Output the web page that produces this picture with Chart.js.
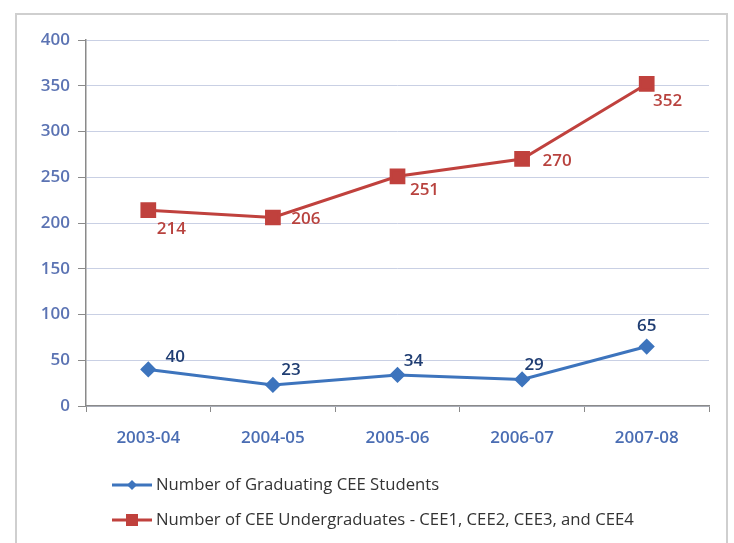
<!DOCTYPE html>
<html>
<head>
<meta charset="utf-8">
<script src="https://cdn.jsdelivr.net/npm/chart.js@4.4.1/dist/chart.umd.min.js"></script>
<style>
  html, body { margin: 0; padding: 0; background: #ffffff; }
  #wrap { position: relative; width: 734px; height: 543px; overflow: hidden; }
  #frame { position: absolute; left: 15px; top: 13px; width: 713px; height: 560px; border: 2px solid #cfcfcf; box-sizing: border-box; }
  canvas { position: absolute; left: 0; top: 0; }
</style>
</head>
<body>
<div id="wrap">
  <div id="frame"></div>
  <canvas id="c" width="734" height="543"></canvas>
</div>
<script>
const categories = ['2003-04', '2004-05', '2005-06', '2006-07', '2007-08'];
const graduating = [40, 23, 34, 29, 65];
const undergrads = [214, 206, 251, 270, 352];
const seriesNames = ['Number of Graduating CEE Students', 'Number of CEE Undergraduates - CEE1, CEE2, CEE3, and CEE4'];
const yTicks = [0, 50, 100, 150, 200, 250, 300, 350, 400];

const FONT = '"Open Sans", "Liberation Sans", sans-serif';
const BLUE = '#3d74bd';
const RED = '#c0413d';

// per-series label styling (offsets in px relative to the point)
const labelStyles = [
  { color: '#1f3d72', offsets: [[27, -12], [18, -15], [16, -14], [12, -14], [0, -20]] },
  { color: '#b8423e', offsets: [[23, 19], [33, 2], [27, 14], [35, 2], [21, 17]] }
];

const dataLabels = {
  id: 'dataLabels',
  afterDatasetsDraw(chart) {
    const ctx = chart.ctx;
    ctx.save();
    ctx.font = '600 17px ' + FONT;
    ctx.textAlign = 'center';
    ctx.textBaseline = 'middle';
    chart.data.datasets.forEach((ds, i) => {
      const meta = chart.getDatasetMeta(i);
      const st = labelStyles[i];
      ctx.fillStyle = st.color;
      meta.data.forEach((pt, j) => {
        const o = st.offsets[j];
        ctx.fillText(String(ds.data[j]), pt.x + o[0], pt.y + o[1]);
      });
    });
    ctx.restore();
  }
};

const customLegend = {
  id: 'customLegend',
  afterDraw(chart) {
    const ctx = chart.ctx;
    ctx.save();
    ctx.font = '16.7px ' + FONT;
    ctx.textBaseline = 'middle';
    ctx.textAlign = 'left';
    const rows = [485, 520];
    chart.data.datasets.forEach((ds, i) => {
      const y = rows[i];
      const x0 = 112, x1 = 152;
      ctx.strokeStyle = ds.borderColor;
      ctx.lineWidth = 3;
      ctx.beginPath(); ctx.moveTo(x0, y); ctx.lineTo(x1, y); ctx.stroke();
      ctx.fillStyle = ds.backgroundColor;
      const cx = (x0 + x1) / 2;
      if (i === 0) {
        ctx.beginPath();
        ctx.moveTo(cx, y - 5); ctx.lineTo(cx + 5, y); ctx.lineTo(cx, y + 5); ctx.lineTo(cx - 5, y);
        ctx.closePath(); ctx.fill();
      } else {
        ctx.fillRect(cx - 6, y - 6, 12, 12);
      }
      ctx.fillStyle = '#333333';
      ctx.fillText(ds.label, x1 + 4, y);
    });
    ctx.restore();
  }
};

new Chart(document.getElementById('c'), {
  type: 'line',
  data: {
    labels: categories,
    datasets: [
      {
        label: seriesNames[0],
        data: graduating,
        borderColor: BLUE,
        backgroundColor: BLUE,
        borderWidth: 3,
        pointStyle: 'rectRot',
        pointRadius: 6,
        pointHoverRadius: 6,
        tension: 0
      },
      {
        label: seriesNames[1],
        data: undergrads,
        borderColor: RED,
        backgroundColor: RED,
        borderWidth: 3,
        pointStyle: 'rect',
        pointRadius: 9,
        pointHoverRadius: 9,
        tension: 0
      }
    ]
  },
  options: {
    responsive: false,
    animation: false,
    events: [],
    layout: { padding: { left: 16, right: 25, top: 40, bottom: 100 } },
    plugins: {
      legend: { display: false },
      tooltip: { enabled: false },
      title: { display: false }
    },
    scales: {
      x: {
        type: 'category',
        offset: true,
        afterFit(scale) { scale.height = 37; },
        grid: {
          offset: true,
          drawOnChartArea: false,
          drawTicks: true,
          tickLength: 6,
          color: '#8a8a8a',
          lineWidth: 1
        },
        border: { display: true, color: '#8a8a8a', width: 1.5 },
        ticks: {
          color: '#4a6db3',
          font: { family: FONT, size: 17, weight: '600' },
          padding: 16,
          maxRotation: 0
        }
      },
      y: {
        min: 0,
        max: 400,
        afterFit(scale) { scale.width = 70; },
        afterBuildTicks(scale) { scale.ticks = yTicks.map(v => ({ value: v })); },
        grid: {
          color: '#c9d0e4',
          lineWidth: 1,
          drawTicks: true,
          tickLength: 8,
          tickColor: '#8a8a8a'
        },
        border: { display: true, color: '#8a8a8a', width: 1.5 },
        ticks: {
          color: '#5b73b3',
          font: { family: FONT, size: 17, weight: '600' },
          padding: 8
        }
      }
    }
  },
  plugins: [dataLabels, customLegend]
});
</script>
</body>
</html>
